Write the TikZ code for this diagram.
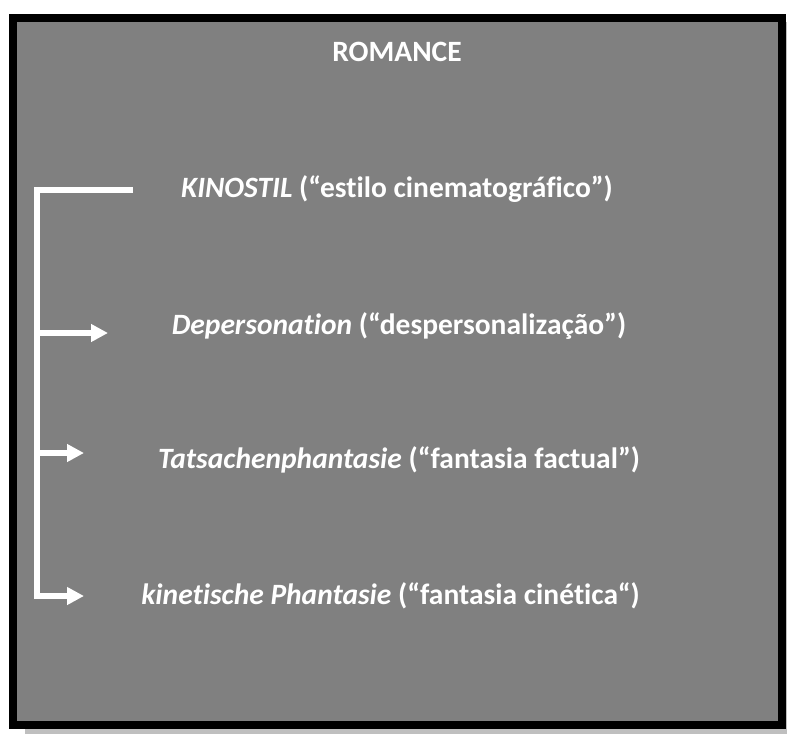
\documentclass[tikz,border=0pt]{standalone}
\usepackage{fontspec}
\setmainfont{Carlito}[Ligatures=NoCommon]
\usetikzlibrary{arrows.meta}
\begin{document}
\begin{tikzpicture}[x=1pt,y=-1pt,
  lbl/.style={text=white,font=\fontsize{29.5}{34}\selectfont\bfseries,anchor=base,inner sep=0pt},
  spine/.style={draw=white,line width=6pt},
  branch/.style={draw=white,line width=6pt,-{Triangle[length=17pt,width=17pt]}}]
\useasboundingbox (0,0) rectangle (787,734);
\fill[black!25] (25,22) rectangle (787,734);
\draw[fill={rgb,255:red,128;green,128;blue,128},draw=black,line width=8pt] (13,18) rectangle (781.5,725);
\node[lbl] (title) at (397,61) {ROMANCE};
\node[lbl] (kino) at (397,197) {\textit{KINOSTIL} (“estilo cinematográfico”)};
\node[lbl] (dep) at (399,334) {\textit{Depersonation} (“despersonalização”)};
\node[lbl] (tat) at (399,468) {\textit{Tatsachenphantasie} (“fantasia factual”)};
\node[lbl] (kin) at (390.5,604) {\textit{kinetische Phantasie} (“fantasia cinética“)};
\coordinate (top) at (133,189.5);
\coordinate (corner) at (37,189.5);
\coordinate (b2) at (37,333);
\coordinate (b3) at (37,453);
\coordinate (b4) at (37,596);
\coordinate (e2) at (108,333);
\coordinate (e3) at (84,453);
\coordinate (e4) at (84,596);
\draw[spine] (top) -- (corner) -- (b4);
\draw[branch] (b2) -- (e2);
\draw[branch] (b3) -- (e3);
\draw[branch] ([xshift=-3pt]b4) -- (e4);
\end{tikzpicture}
\end{document}
